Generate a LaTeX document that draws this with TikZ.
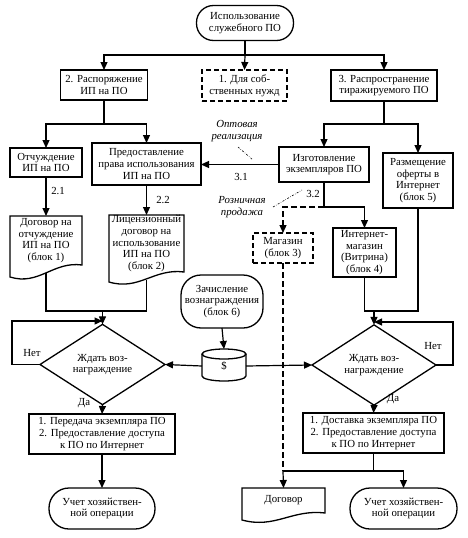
\documentclass[tikz,border=0pt]{standalone}
\usepackage{fontspec}
\setmainfont{Liberation Serif}
\usetikzlibrary{arrows.meta,shapes.geometric,calc}
\newcommand{\docpath}[2]{%
  \draw[line width=1.3pt] (#1.south east) -- (#1.north east) -- (#1.north west) -- ($(#1.south west)+(0,#2)$)
    .. controls ($(#1.south west)!0.4!(#1.south east)+(0,#2+9)$) and ($(#1.south west)!0.6!(#1.south east)+(0,-4)$) .. (#1.south east) -- cycle;}
\begin{document}
\begin{tikzpicture}[x=1pt,y=-1pt,
  font=\fontsize{10.8}{11.6}\selectfont,
  box/.style={draw, line width=1.3pt, align=center, inner sep=1pt, outer sep=0pt},
  dbox/.style={box, dash pattern=on 5pt off 3pt},
  stad/.style={box, rounded corners=#1},
  docn/.style={align=center, inner sep=0pt, outer sep=0pt},
  dia/.style={diamond, draw, line width=1.3pt, align=center, inner sep=0pt, outer sep=0pt},
  lab/.style={inner sep=1pt},
  ital/.style={font=\fontsize{10.8}{11.6}\selectfont\itshape, align=center, inner sep=1pt},
  line/.style={line width=1.2pt},
  dline/.style={line width=1.2pt, dash pattern=on 6pt off 3pt},
  arr/.style={line width=1.2pt, -{Triangle[length=8pt,width=7pt]}},
  darr/.style={arr, dash pattern=on 6pt off 3pt},
  leader/.style={line width=0.6pt, dash pattern=on 2pt off 1.5pt on 0.5pt off 1.5pt}]
\useasboundingbox (0,0) rectangle (467,538);
% nodes
\node[stad=17pt, minimum width=97pt, minimum height=35pt] (top) at (245,23) {Использование\\служебного ПО};
\node[box, minimum width=87pt, minimum height=30pt] (n2) at (104,85) {2. Распоряжение\\ИП на ПО};
\node[dbox, minimum width=85pt, minimum height=31pt] (n1) at (244.5,85.5) {1. Для соб-\\ственных нужд};
\node[box, minimum width=106pt, minimum height=31pt] (n3) at (384,85.5) {3. Распространение\\тиражируемого ПО};
\node[box, minimum width=72pt, minimum height=29pt] (otch) at (46,162.5) {Отчуждение\\ИП на ПО};
\node[box, minimum width=109pt, minimum height=42pt] (pred) at (146.5,164) {Предоставление\\права использования\\ИП на ПО};
\node[box, minimum width=90pt, minimum height=35pt] (izg) at (324,164.5) {Изготовление\\экземпляров ПО};
\node[box, minimum width=70pt, minimum height=55pt] (razm) at (418,180.5) {Размещение\\оферты в\\Интернет\\(блок 5)};
\node[docn, minimum width=72pt, minimum height=49pt] (doc1) at (46,240.5) {Договор на\\отчуждение\\ИП на ПО\\(блок 1)};
\docpath{doc1}{12}
\node[docn, minimum width=75pt, minimum height=57pt] (doc2) at (146.5,243.5) {Лицензионный\\договор на\\использование\\ИП на ПО\\(блок 2)};
\docpath{doc2}{10}
\node[dbox, minimum width=60pt, minimum height=30pt] (mag) at (283,248) {Магазин\\(блок 3)};
\node[box, minimum width=63pt, minimum height=49pt] (imag) at (364.5,252.5) {Интернет-\\магазин\\(Витрина)\\(блок 4)};
\node[stad=20pt, minimum width=82pt, minimum height=53pt] (zach) at (222,301.5) {Зачисление\\вознаграждения\\(блок 6)};
\node[minimum width=44pt, minimum height=32pt, inner sep=0pt, outer sep=0pt] (cyl) at (224,366) {\$};
\draw[line width=1.3pt] (224,354) ellipse [x radius=22, y radius=5];
\draw[line width=1.3pt] (202,354) -- (202,376) .. controls (202,378.76) and (211.85,381) .. (224,381)
   .. controls (236.15,381) and (246,378.76) .. (246,376) -- (246,354);
\node[dia, minimum width=125pt, minimum height=51pt] (dl) at (102.5,364.5) {Ждать воз-\\награждение};
\node[dia, minimum width=124pt, minimum height=50pt] (dr) at (374,365) {Ждать воз-\\награждение};
\node[box, minimum width=146pt, minimum height=40pt] (bl) at (102,434) {1. Передача экземпляра ПО\\2. Предоставление доступа\\к ПО по Интернет};
\node[box, minimum width=141pt, minimum height=40pt] (br) at (373.5,433) {1. Доставка экземпляра ПО\\2. Предоставление доступа\\к ПО по Интернет};
\node[stad=20pt, minimum width=106pt, minimum height=41pt] (ul) at (102,508.5) {Учет хозяйствен-\\ной операции};
\node[docn, minimum width=83pt, minimum height=25pt] (dog) at (283.5,500.5) {Договор};
\docpath{dog}{7}
\node[stad=20pt, minimum width=107pt, minimum height=41pt] (ur) at (403.5,508.5) {Учет хозяйствен-\\ной операции};
% labels
\node[lab] (l21) at (58,191) {2.1};
\node[lab] (l22) at (163,200) {2.2};
\node[lab] (l31) at (241,177) {3.1};
\node[lab] (l32) at (313,194) {3.2};
\node[ital] (opt) at (237,131) {Оптовая\\реализация};
\node[ital] (rozn) at (242,207) {Розничная\\продажа};
\node[lab] (net1) at (32,353) {Нет};
\node[lab] (net2) at (433,346) {Нет};
\node[lab] (da1) at (84,403) {Да};
\node[lab] (da2) at (393,399) {Да};
\coordinate (ldA) at (238,147);
\coordinate (ldB) at (253,160);
\coordinate (ldC) at (273,207);
\coordinate (ldD) at (302,190);
\draw[leader] (ldA) -- (ldB);
\draw[leader] (ldC) -- (ldD);
% connectors
\coordinate (j0) at (245,55);
\draw[line] (top.south) -- (j0);
\draw[arr] (j0) -| (n2.north);
\draw[arr] (j0) -- (n1.north);
\draw[arr] (j0) -| (n3.north);
\coordinate (j2) at (n2.south |- 0,124);
\draw[line] (n2.south) -- (j2);
\draw[arr] (j2) -| (otch.north);
\draw[arr] (j2) -| (pred.north);
\coordinate (j3) at (n3.south |- 0,124);
\draw[line] (n3.south) -- (j3);
\draw[arr] (j3) -| (izg.north);
\draw[arr] (j3) -| (razm.north);
\draw[arr] (izg.west) -- (izg.west -| pred.east);
\draw[arr] (otch.south) -- (doc1.north);
\draw[arr] (pred.south) -- (doc2.north);
\coordinate (j4) at (izg.south |- 0,207);
\draw[line] (izg.south) -- (j4);
\draw[arr] (j4) -| (imag.north);
\draw[darr] (j4) -| (mag.north);
\coordinate (j5) at (dl.north |- 0,311);
\draw[line] ($(doc1.south)+(0,8)$) |- (j5);
\draw[line] ($(doc2.south)+(0,8)$) |- (j5);
\draw[arr] (j5) -- (dl.north);
\coordinate (lp1) at (dl.north |- 0,321);
\draw[arr] (dl.west) -- ++(-28,0) |- (lp1);
\draw[arr] (zach.south) -- (224,349);
\draw[arr] (cyl.west) -- (dl.east);
\draw[arr] (cyl.east) -- (dr.west);
\coordinate (j6) at (dr.north |- 0,311);
\draw[line] (imag.south) |- (j6);
\draw[line] (razm.south) |- (j6);
\draw[arr] (j6) -- (dr.north);
\coordinate (lp2) at (dr.north |- 0,322);
\draw[arr] (dr.east) -- ++(17,0) |- (lp2);
\draw[arr] (dl.south) -- (bl.north);
\draw[arr] (dr.south) -- (br.north);
\draw[arr] (bl.south) -- (ul.north);
\coordinate (j7) at (br.south |- 0,471);
\coordinate (j8) at (mag.south |- 0,471);
\draw[line] (br.south) -- (j7);
\draw[arr] (j7) -| (ur.north);
\draw[line] (j7) -- (j8);
\draw[dline] (mag.south) -- (j8);
\draw[arr] (j8) -- (dog.north);
\end{tikzpicture}
\end{document}
